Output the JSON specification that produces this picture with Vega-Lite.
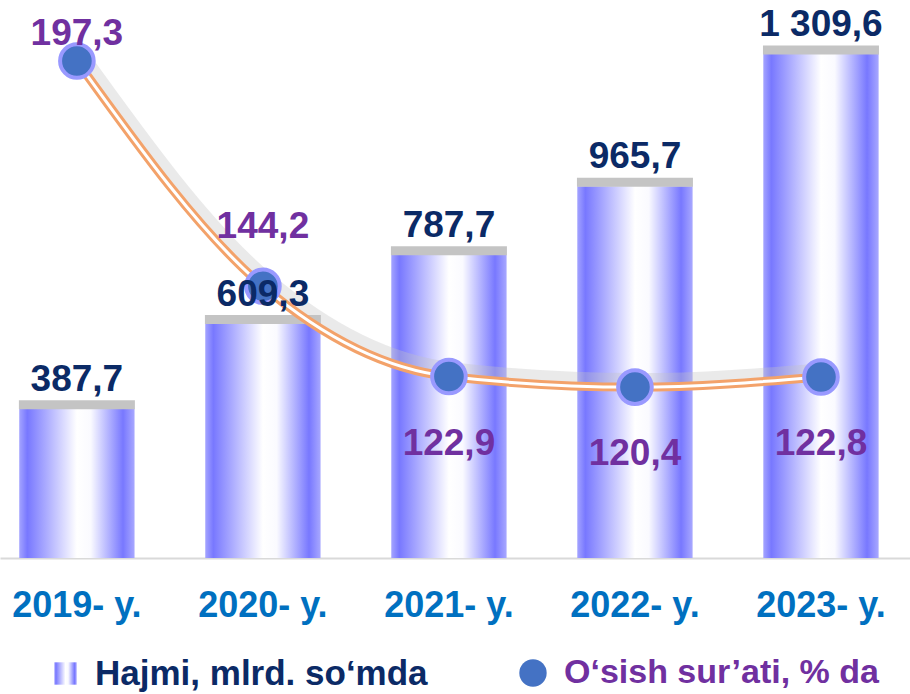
{
  "$schema": "https://vega.github.io/schema/vega-lite/v6.json",
  "width": 910,
  "height": 558,
  "autosize": {"type": "none"},
  "padding": {"left": 0, "top": 0, "right": 0, "bottom": 136},
  "background": "white",
  "config": {
    "view": {"stroke": null},
    "font": "Liberation Sans",
    "locale": {"number": {"decimal": ",", "thousands": " ", "grouping": [3], "currency": ["", ""]}}
  },
  "data": {
    "values": [
      {"year": "2019- y.", "hajmi": 387.7, "osish": 197.3},
      {"year": "2020- y.", "hajmi": 609.3, "osish": 144.2},
      {"year": "2021- y.", "hajmi": 787.7, "osish": 122.9},
      {"year": "2022- y.", "hajmi": 965.7, "osish": 120.4},
      {"year": "2023- y.", "hajmi": 1309.6, "osish": 122.8}
    ]
  },
  "encoding": {
    "x": {
      "field": "year", "type": "ordinal", "sort": null,
      "scale": {"paddingInner": 0.38, "paddingOuter": 0.136, "align": 0.38},
      "axis": {
        "title": null, "labelAngle": 0, "ticks": false, "labelPadding": 30,
        "labelFontSize": 36, "labelFontWeight": "bold", "labelColor": "#0070c0",
        "domainColor": "#d9d9d9", "domainWidth": 2
      }
    }
  },
  "layer": [
    {
      "encoding": {
        "y": {"field": "hajmi", "type": "quantitative", "scale": {"domain": [0, 1450], "nice": false, "zero": true}, "axis": null}
      },
      "layer": [
        {
          "mark": {
            "type": "bar",
            "color": {
              "gradient": "linear", "x1": 0, "x2": 1, "y1": 0, "y2": 0,
              "stops": [
                {"offset": 0, "color": "#a4a4ff"},
                {"offset": 0.07, "color": "#7878ff"},
                {"offset": 0.5, "color": "#ffffff"},
                {"offset": 0.62, "color": "#fafaff"},
                {"offset": 0.9, "color": "#7878ff"},
                {"offset": 1, "color": "#a8a8ff"}
              ]
            }
          },
          "encoding": {
            "opacity": {
              "datum": "Hajmi, mlrd. so‘mda", "type": "nominal",
              "scale": {"range": [1]},
              "legend": {
                "orient": "none", "legendX": 48, "legendY": 656, "title": null, "padding": 0,
                "labelFontSize": 35, "labelFontWeight": "bold", "labelColor": "#0b2a66", "labelLimit": 600,
                "symbolType": "square", "symbolSize": 500, "symbolFillColor": "#8c8cff",
                "symbolStrokeColor": "#b4b4ff", "symbolStrokeWidth": 2, "symbolOpacity": 1, "labelOffset": 12
              }
            }
          }
        },
        {
          "mark": {"type": "tick", "thickness": 9, "size": 116, "color": "#c4c4c4", "yOffset": -4, "opacity": 1}
        }
      ]
    },
    {
      "encoding": {
        "y": {"field": "osish", "type": "quantitative", "scale": {"domain": [80.1, 211.7], "nice": false, "zero": false}, "axis": null}
      },
      "layer": [
        {
          "mark": {"type": "line", "interpolate": "monotone", "color": "#c4c4c4", "strokeWidth": 14, "opacity": 0.35, "yOffset": -7, "xOffset": 4}
        },
        {
          "mark": {"type": "line", "interpolate": "monotone", "color": "#f3a26a", "strokeWidth": 9}
        },
        {
          "mark": {"type": "line", "interpolate": "monotone", "color": "#ffffff", "strokeWidth": 3}
        },
        {
          "mark": {"type": "point", "filled": true, "size": 1130, "fill": "#4472c4", "stroke": "#9999ff", "strokeWidth": 4, "opacity": 1},
          "encoding": {
            "opacity": {
              "datum": "O‘sish sur’ati, % da", "type": "nominal",
              "scale": {"range": [1]},
              "legend": {
                "orient": "none", "legendX": 516, "legendY": 656, "title": null, "padding": 0,
                "labelFontSize": 34, "labelFontWeight": "bold", "labelColor": "#7030a0", "labelLimit": 600,
                "symbolType": "circle", "symbolSize": 750, "symbolFillColor": "#4472c4",
                "symbolStrokeColor": "#9999ff", "symbolStrokeWidth": 4, "symbolOpacity": 1, "labelOffset": 14
              }
            }
          }
        },
        {
          "transform": [{"filter": "datum.year === '2019- y.'"}],
          "mark": {"type": "text", "fontSize": 37, "fontWeight": "bold", "color": "#7030a0", "baseline": "alphabetic", "dy": -16},
          "encoding": {"text": {"field": "osish", "type": "quantitative", "format": ",.1f"}}
        },
        {
          "transform": [{"filter": "datum.year === '2020- y.'"}],
          "mark": {"type": "text", "fontSize": 37, "fontWeight": "bold", "color": "#7030a0", "baseline": "alphabetic", "dy": -48},
          "encoding": {"text": {"field": "osish", "type": "quantitative", "format": ",.1f"}}
        },
        {
          "transform": [{"filter": "datum.osish < 130"}],
          "mark": {"type": "text", "fontSize": 37, "fontWeight": "bold", "color": "#7030a0", "baseline": "alphabetic", "dy": 78},
          "encoding": {"text": {"field": "osish", "type": "quantitative", "format": ",.1f"}}
        }
      ]
    },
    {
      "mark": {"type": "text", "fontSize": 37, "fontWeight": "bold", "color": "#0b2a66", "baseline": "alphabetic", "dy": -18},
      "encoding": {
        "y": {"field": "hajmi", "type": "quantitative", "scale": {"domain": [0, 1450], "nice": false, "zero": true}, "axis": null},
        "text": {"field": "hajmi", "type": "quantitative", "format": ",.1f"}
      }
    }
  ],
  "resolve": {"scale": {"y": "independent", "opacity": "independent"}}
}
